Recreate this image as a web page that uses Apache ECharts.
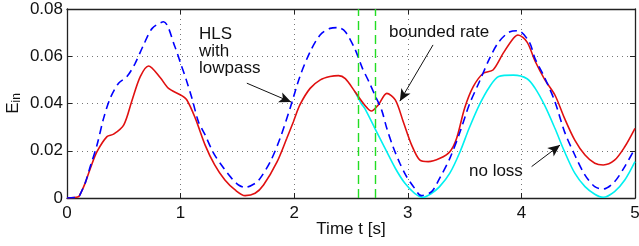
<!DOCTYPE html>
<html>
<head>
<meta charset="utf-8">
<script src="https://cdn.jsdelivr.net/npm/echarts@6/dist/echarts.min.js"></script>
<style>
  html, body { margin: 0; padding: 0; background: #fff; }
  #chart { width: 639px; height: 246px; }
</style>
</head>
<body>
<div id="chart"></div>
<script>
// bounded rate (red)
const redT = [0, 0.1, 0.12, 0.16, 0.206, 0.264, 0.352, 0.41, 0.5, 0.57, 0.645, 0.718, 0.82, 0.894, 1.0, 1.055, 1.13, 1.216, 1.3, 1.39, 1.48, 1.568, 1.656, 1.73, 1.85, 1.935, 1.993, 2.05, 2.14, 2.23, 2.315, 2.39, 2.45, 2.535, 2.62, 2.68, 2.74, 2.815, 2.89, 2.96, 3.034, 3.107, 3.18, 3.283, 3.37, 3.43, 3.5, 3.576, 3.664, 3.75, 3.84, 3.93, 3.97, 4.05, 4.12, 4.207, 4.295, 4.38, 4.47, 4.56, 4.646, 4.72, 4.82, 4.91, 5.0];
const redE = [0, 0.0005, 0.002, 0.0063, 0.0126, 0.0196, 0.026, 0.027, 0.031, 0.041, 0.0514, 0.0559, 0.051, 0.0464, 0.0436, 0.0415, 0.0337, 0.0224, 0.014, 0.0076, 0.0034, 0.001, 0.002, 0.0055, 0.0154, 0.0253, 0.0323, 0.0394, 0.0464, 0.05, 0.0514, 0.0518, 0.0505, 0.045, 0.0394, 0.0368, 0.0394, 0.0443, 0.0415, 0.0323, 0.0224, 0.016, 0.0154, 0.0168, 0.0196, 0.0253, 0.038, 0.0471, 0.0528, 0.0542, 0.0613, 0.0676, 0.069, 0.066, 0.058, 0.05, 0.0436, 0.0337, 0.0245, 0.0182, 0.0147, 0.014, 0.016, 0.0217, 0.0295];

// HLS with lowpass (blue dashed)
const blueT = [0, 0.1, 0.12, 0.16, 0.206, 0.264, 0.322, 0.38, 0.454, 0.528, 0.6, 0.674, 0.75, 0.85, 0.95, 1.0, 1.05, 1.1, 1.157, 1.216, 1.29, 1.38, 1.45, 1.51, 1.57, 1.656, 1.7, 1.79, 1.876, 1.964, 2.05, 2.14, 2.228, 2.316, 2.39, 2.45, 2.535, 2.6, 2.66, 2.71, 2.77, 2.815, 2.87, 2.93, 2.99, 3.05, 3.12, 3.21, 3.28, 3.37, 3.46, 3.54, 3.63, 3.72, 3.8, 3.9, 3.97, 4.07, 4.12, 4.207, 4.295, 4.38, 4.47, 4.56, 4.646, 4.72, 4.82, 4.91, 5.0];
const blueE = [0, 0.0005, 0.002, 0.0063, 0.0135, 0.0224, 0.0337, 0.0422, 0.0486, 0.0514, 0.057, 0.0648, 0.0718, 0.0746, 0.064, 0.057, 0.05, 0.0422, 0.0323, 0.0267, 0.019, 0.0126, 0.0083, 0.0055, 0.0045, 0.0062, 0.0083, 0.0154, 0.0253, 0.038, 0.0514, 0.0619, 0.069, 0.0718, 0.0721, 0.0704, 0.063, 0.055, 0.049, 0.0436, 0.0372, 0.0295, 0.0217, 0.0147, 0.009, 0.0048, 0.001, 0.0027, 0.0083, 0.0168, 0.028, 0.0394, 0.0492, 0.0591, 0.066, 0.0704, 0.0708, 0.066, 0.059, 0.0507, 0.0408, 0.028, 0.0182, 0.0097, 0.0048, 0.0038, 0.0069, 0.0133, 0.021];

// no loss (cyan)
const cyanT = [2.535, 2.59, 2.62, 2.71, 2.8, 2.89, 2.975, 3.06, 3.136, 3.21, 3.28, 3.37, 3.46, 3.54, 3.63, 3.72, 3.8, 3.93, 4.05, 4.12, 4.207, 4.295, 4.38, 4.47, 4.56, 4.646, 4.72, 4.82, 4.91, 5.0];
const cyanE = [0.045, 0.04, 0.038, 0.0295, 0.021, 0.0126, 0.0062, 0.002, 0.0003, 0.002, 0.0048, 0.0105, 0.0196, 0.0295, 0.0394, 0.0471, 0.0514, 0.052, 0.0505, 0.0465, 0.039, 0.0295, 0.0196, 0.0105, 0.0048, 0.0016, 0.0003, 0.0027, 0.0076, 0.0154];

// green limit markers
const greenT = [2.556, 2.71];

const xTicks = [0, 1, 2, 3, 4, 5];
const yTicks = [0, 0.02, 0.04, 0.06, 0.08];

// arrows: [from, to] in data coords
const arrows = [
  [[1.583, 0.0486], [1.973, 0.0406]],
  [[3.222, 0.0648], [2.93, 0.041]],
  [[4.09, 0.0133], [4.34, 0.0224]]
];

const pair = (t, e) => t.map((v, i) => [v, e[i]]);
const font = 'Liberation Sans, Arial, sans-serif';

const myChart = echarts.init(document.getElementById('chart'));

const tickOpt = { show: true, inside: true, length: 5, lineStyle: { color: '#222' } };
const lineOpt = { show: true, onZero: false, lineStyle: { color: '#222', width: 1.3 } };

const option = {
  animation: false,
  textStyle: { fontFamily: font },
  grid: { left: 67, right: 4, top: 9, bottom: 48, outerBoundsMode: 'none', containLabel: false },
  xAxis: [{
    type: 'value', min: xTicks[0], max: xTicks[xTicks.length - 1], interval: 1,
    axisLine: lineOpt, axisTick: tickOpt,
    axisLabel: { color: '#111', fontSize: 17, margin: 7 },
    splitLine: { show: true, lineStyle: { color: '#777', type: [1, 4] } },
    name: 'Time t [s]', nameLocation: 'middle', nameGap: 23, nameMoveOverlap: false,
    nameTextStyle: { color: '#111', fontSize: 17 }
  }, {
    type: 'value', position: 'top', min: 0, max: 5, interval: 1,
    axisLine: lineOpt, axisTick: tickOpt, axisLabel: { show: false }, splitLine: { show: false }
  }],
  yAxis: [{
    type: 'value', min: yTicks[0], max: yTicks[yTicks.length - 1], interval: 0.02,
    axisLine: lineOpt, axisTick: tickOpt,
    axisLabel: { color: '#111', fontSize: 17, margin: 4, formatter: v => v === 0 ? '0' : v.toFixed(2) },
    splitLine: { show: true, lineStyle: { color: '#777', type: [1, 4] } },
    name: '{e|E}{s|in}', nameLocation: 'middle', nameGap: 44, nameMoveOverlap: false,
    nameTextStyle: {
      color: '#111',
      rich: {
        e: { fontSize: 17, color: '#111', fontFamily: font },
        s: { fontSize: 12, color: '#111', fontFamily: font, padding: [8, 0, 0, 0] }
      }
    }
  }, {
    type: 'value', position: 'right', min: 0, max: 0.08, interval: 0.02,
    axisLine: lineOpt, axisTick: tickOpt, axisLabel: { show: false }, splitLine: { show: false }
  }],
  series: [
    {
      name: 'no loss', type: 'line', data: pair(cyanT, cyanE), smooth: 0.3, symbol: 'none',
      lineStyle: { color: '#00f0f0', width: 1.6 }
    },
    {
      name: 'bounded rate', type: 'line', data: pair(redT, redE), smooth: 0.3, symbol: 'none',
      lineStyle: { color: '#e01010', width: 1.6 },
      markLine: {
        silent: true, symbol: ['none', 'none'],
        label: { show: false },
        lineStyle: { color: '#22dd22', type: [9, 5], width: 1.4 },
        data: greenT.map(t => ({ xAxis: t }))
      }
    },
    {
      name: 'HLS with lowpass', type: 'line', data: pair(blueT, blueE), smooth: 0.3, symbol: 'none',
      lineStyle: { color: '#0000ff', width: 1.6, type: [8, 5] },
      markLine: {
        silent: true, symbol: ['none', 'arrow'], symbolSize: [8, 12],
        label: { show: false },
        lineStyle: { color: '#111', type: 'solid', width: 1 },
        data: arrows.map(a => [{ coord: a[0] }, { coord: a[1] }])
      }
    }
  ],
  graphic: [
    { type: 'text', left: 199, top: 26, style: { text: 'HLS\nwith\nlowpass', font: '17px ' + font, fill: '#111', lineHeight: 17 } },
    { type: 'text', left: 389, top: 24, style: { text: 'bounded rate', font: '17px ' + font, fill: '#111' } },
    { type: 'text', left: 469, top: 163, style: { text: 'no loss', font: '17px ' + font, fill: '#111' } }
  ]
};

myChart.setOption(option);
</script>
</body>
</html>
